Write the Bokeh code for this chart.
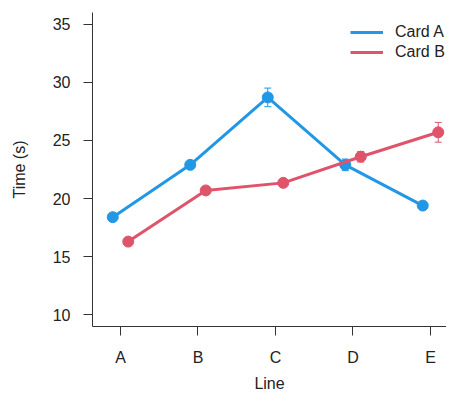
from bokeh.plotting import figure
from bokeh.models import (ColumnDataSource, FixedTicker, Whisker, TeeHead, Legend,
                          LegendItem, Range1d)
from bokeh.embed import file_html
from bokeh.resources import INLINE

# ---- data ----
lines = ["A", "B", "C", "D", "E"]
card_a_time = [18.4, 22.9, 28.7, 22.9, 19.4]
card_a_se = [0.3, 0.3, 0.8, 0.5, 0.3]
card_b_time = [16.3, 20.7, 21.35, 23.6, 25.7]
card_b_se = [0.2, 0.3, 0.3, 0.45, 0.85]
y_ticks = [10, 15, 20, 25, 30, 35]

BLUE = "#2297E6"
RED = "#DF536B"
TXT = "#222222"
FONT = "Liberation Sans"
DODGE = 0.1

pos = list(range(1, len(lines) + 1))

def make_source(vals, se, offset):
    return ColumnDataSource(dict(
        x=[p + offset for p in pos],
        y=vals,
        upper=[v + s for v, s in zip(vals, se)],
        lower=[v - s for v, s in zip(vals, se)],
    ))

src_a = make_source(card_a_time, card_a_se, -DODGE)
src_b = make_source(card_b_time, card_b_se, DODGE)

p = figure(width=446, height=394, output_backend="svg", toolbar_location=None,
           x_range=Range1d(0.6387, 5.2065), y_range=Range1d(9, 36),
           min_border_left=92, min_border_right=0, min_border_top=12,
           min_border_bottom=67)
p.outline_line_color = None
p.xgrid.visible = False
p.ygrid.visible = False
p.background_fill_color = "white"
p.border_fill_color = "white"

r_a = p.line("x", "y", source=src_a, line_color=BLUE, line_width=3)
p.add_layout(Whisker(base="x", upper="upper", lower="lower", source=src_a,
                     line_color=BLUE, line_width=1,
                     upper_head=TeeHead(size=7, line_color=BLUE, line_width=1),
                     lower_head=TeeHead(size=7, line_color=BLUE, line_width=1)))
p.scatter("x", "y", source=src_a, size=11, fill_color=BLUE, line_color=BLUE)

r_b = p.line("x", "y", source=src_b, line_color=RED, line_width=3)
p.add_layout(Whisker(base="x", upper="upper", lower="lower", source=src_b,
                     line_color=RED, line_width=1,
                     upper_head=TeeHead(size=7, line_color=RED, line_width=1),
                     lower_head=TeeHead(size=7, line_color=RED, line_width=1)))
p.scatter("x", "y", source=src_b, size=11, fill_color=RED, line_color=RED)

# axes
p.xaxis.ticker = FixedTicker(ticks=pos)
p.xaxis.major_label_overrides = {p_: l for p_, l in zip(pos, lines)}
p.yaxis.ticker = FixedTicker(ticks=y_ticks)
p.xaxis.axis_label = "Line"
p.yaxis.axis_label = "Time (s)"
for ax in (p.xaxis, p.yaxis):
    ax.axis_line_color = "#333333"
    ax.axis_line_width = 1
    ax.major_tick_line_color = "#333333"
    ax.major_tick_out = 9
    ax.major_tick_in = 0
    ax.minor_tick_line_color = None
    ax.major_label_text_font = FONT
    ax.major_label_text_font_size = "16px"
    ax.major_label_text_color = TXT
    ax.axis_label_text_font = FONT
    ax.axis_label_text_font_size = "16px"
    ax.axis_label_text_font_style = "normal"
    ax.axis_label_text_color = TXT
p.xaxis.major_label_standoff = 13
p.xaxis.axis_label_standoff = 6
p.yaxis.major_label_standoff = 13
p.yaxis.axis_label_standoff = 22

legend = Legend(items=[LegendItem(label="Card A", renderers=[r_a]),
                       LegendItem(label="Card B", renderers=[r_b])],
                location=(258, 264), padding=0, margin=0, spacing=0,
                glyph_width=33, glyph_height=20, label_height=20,
                label_standoff=12, border_line_color=None,
                background_fill_alpha=0,
                label_text_font=FONT, label_text_font_size="16px",
                label_text_color=TXT)
p.add_layout(legend)

open("out.html", "w").write(file_html(p, INLINE))
